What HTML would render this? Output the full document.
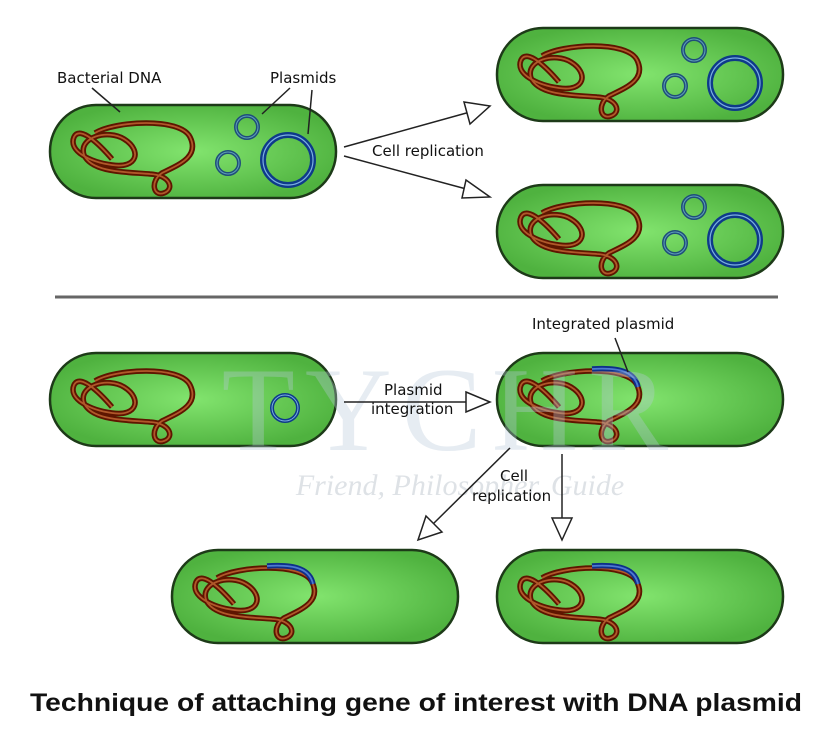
<!DOCTYPE html>
<html><head><style>
body{margin:0;background:#fff;width:833px;height:737px;overflow:hidden;font-family:"DejaVu Sans","Liberation Sans",sans-serif}
</style></head><body>
<svg width="833" height="737" viewBox="0 0 833 737" xmlns="http://www.w3.org/2000/svg">
<defs>
<radialGradient id="g" cx="50%" cy="50%" r="55%">
<stop offset="0" stop-color="#82e46e"/><stop offset="1" stop-color="#4fb23f"/>
</radialGradient>
<g id="cell"><rect x="0" y="0" width="286" height="93" rx="46" fill="url(#g)" stroke="#1d3a18" stroke-width="2.5"/></g>
<path id="dnap" d="M45,28 C65,16 130,12 140,32 C150,52 128,60 112,68 C100,76 103,92 114,88 C125,84 120,70 100,69 C78,67 42,68 34,50 C28,32 58,24 74,34 C92,45 88,64 62,60 C40,57 18,46 24,32 C30,20 50,40 62,54"/>
<g id="dna"><use href="#dnap" fill="none" stroke="#5e1500" stroke-width="5.5"/><use href="#dnap" fill="none" stroke="#b0582a" stroke-width="1.8"/></g>
<g id="dnaI"><use href="#dna"/><path d="M95,16 C125,14 138,20 141,34" fill="none" stroke="#0e2f8a" stroke-width="5.5"/><path d="M95,16 C125,14 138,20 141,34" fill="none" stroke="#4d7ad0" stroke-width="1.8"/></g>
<g id="plas">
<circle cx="197" cy="22" r="11" fill="none" stroke="#1f4e7a" stroke-width="4"/><circle cx="197" cy="22" r="11" fill="none" stroke="#5fa0b8" stroke-width="1"/>
<circle cx="178" cy="58" r="11" fill="none" stroke="#1f4e7a" stroke-width="4"/><circle cx="178" cy="58" r="11" fill="none" stroke="#5fa0b8" stroke-width="1"/>
<circle cx="238" cy="55" r="25" fill="none" stroke="#0e3a8a" stroke-width="6"/><circle cx="238" cy="55" r="25" fill="none" stroke="#7ab0e0" stroke-width="1.2"/>
</g>
</defs>

<g transform="translate(50,105)"><use href="#cell"/><use href="#dna"/><use href="#plas"/></g>
<g transform="translate(497,28)"><use href="#cell"/><use href="#dna"/><use href="#plas"/></g>
<g transform="translate(497,185)"><use href="#cell"/><use href="#dna"/><use href="#plas"/></g>
<g transform="translate(50,353)"><use href="#cell"/><use href="#dna"/><circle cx="235" cy="55" r="13" fill="none" stroke="#0e3a8a" stroke-width="4"/><circle cx="235" cy="55" r="13" fill="none" stroke="#7ab0e0" stroke-width="1"/></g>
<g transform="translate(497,353)"><use href="#cell"/><use href="#dnaI"/></g>
<g transform="translate(172,550)"><use href="#cell"/><use href="#dnaI"/></g>
<g transform="translate(497,550)"><use href="#cell"/><use href="#dnaI"/></g>

<text x="450" y="450" font-family="Liberation Serif,serif" font-size="120" fill="#b8c8da" fill-opacity="0.35" text-anchor="middle" letter-spacing="10">TYCHR</text>
<text x="460" y="495" font-family="Liberation Serif,serif" font-style="italic" font-size="30" fill="#c8ced6" fill-opacity="0.6" text-anchor="middle">Friend, Philosopher, Guide</text>

<g font-size="15" fill="#111">
<text x="57" y="83">Bacterial DNA</text>
<text x="270" y="83">Plasmids</text>
<text x="372" y="156">Cell replication</text>
<text x="532" y="329">Integrated plasmid</text>
<text x="384" y="395">Plasmid</text>
<text x="371" y="414">integration</text>
<text x="500" y="481">Cell</text>
<text x="472" y="501">replication</text>
</g>
<g stroke="#222" stroke-width="1.5" fill="none">
<path d="M92,88 L120,112"/><path d="M290,88 L262,114"/><path d="M312,90 L308,134"/>
<path d="M344,147 L470,112"/><path d="M344,156 L470,190"/>
<path d="M344,402 L468,402"/>
<path d="M615,338 L628,372"/>
<path d="M510,448 L432,525"/><path d="M562,454 L562,518"/>
</g>
<g stroke="#222" stroke-width="1.5" fill="#fff">
<path d="M464,102 L490,106 L470,124 Z"/>
<path d="M466,180 L490,197 L462,198 Z"/>
<path d="M466,392 L490,402 L466,412 Z"/>
<path d="M426,516 L418,540 L442,532 Z"/>
<path d="M552,518 L572,518 L562,540 Z"/>
</g>
<line x1="55" y1="297" x2="778" y2="297" stroke="#666" stroke-width="3"/>
<text x="30" y="711" textLength="772" lengthAdjust="spacingAndGlyphs" font-family="Liberation Sans,sans-serif" font-weight="bold" font-size="25" fill="#111">Technique of attaching gene of interest with DNA plasmid</text>
</svg>
</body></html>
